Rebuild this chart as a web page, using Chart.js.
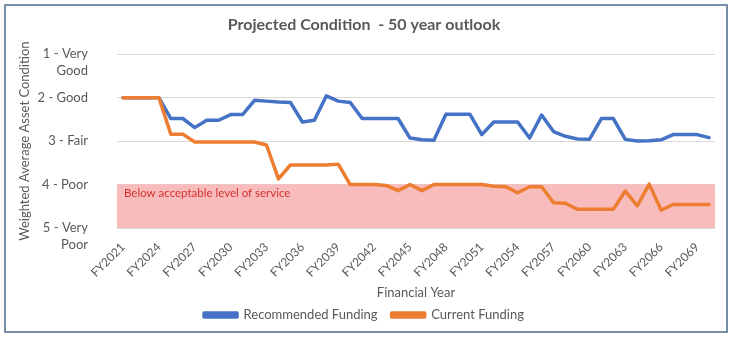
<!DOCTYPE html>
<html>
<head>
<meta charset="utf-8">
<script src="https://cdn.jsdelivr.net/npm/chart.js@4.4.0/dist/chart.umd.min.js"></script>
<style>
  html, body { margin: 0; padding: 0; background: #fff; }
  #wrap { position: relative; width: 732px; height: 338px; }
  #frame { position: absolute; left: 4px; top: 4px; width: 724px; height: 329px; box-sizing: border-box; border: 2px solid #7890a7; }
  canvas { position: absolute; left: 0; top: 0; }
</style>
</head>
<body>
<div id="wrap">
  <div id="frame"></div>
  <canvas id="chart" width="732" height="338"></canvas>
</div>
<script>
(function() {

  "use strict";

  var years = [
    "FY2021", "FY2022", "FY2023", "FY2024", "FY2025", "FY2026", "FY2027", "FY2028", "FY2029", "FY2030",
    "FY2031", "FY2032", "FY2033", "FY2034", "FY2035", "FY2036", "FY2037", "FY2038", "FY2039", "FY2040",
    "FY2041", "FY2042", "FY2043", "FY2044", "FY2045", "FY2046", "FY2047", "FY2048", "FY2049", "FY2050",
    "FY2051", "FY2052", "FY2053", "FY2054", "FY2055", "FY2056", "FY2057", "FY2058", "FY2059", "FY2060",
    "FY2061", "FY2062", "FY2063", "FY2064", "FY2065", "FY2066", "FY2067", "FY2068", "FY2069", "FY2070"
  ];

  var recommended = [
    2.00, 2.00, 2.00, 2.00, 2.48, 2.48, 2.69, 2.52, 2.52, 2.39,
    2.39, 2.06, 2.08, 2.10, 2.11, 2.56, 2.52, 1.96, 2.08, 2.11,
    2.48, 2.48, 2.48, 2.48, 2.93, 2.97, 2.98, 2.38, 2.38, 2.38,
    2.85, 2.56, 2.56, 2.56, 2.93, 2.40, 2.78, 2.89, 2.95, 2.96,
    2.48, 2.48, 2.96, 3.00, 2.99, 2.97, 2.85, 2.85, 2.85, 2.92
  ];

  var current = [
    2.00, 2.00, 2.00, 2.00, 2.84, 2.84, 3.02, 3.02, 3.02, 3.02,
    3.02, 3.02, 3.09, 3.87, 3.55, 3.55, 3.55, 3.55, 3.53, 4.00,
    4.00, 4.00, 4.02, 4.14, 4.00, 4.14, 4.00, 4.00, 4.00, 4.00,
    4.00, 4.04, 4.05, 4.19, 4.05, 4.05, 4.42, 4.43, 4.57, 4.57,
    4.57, 4.57, 4.15, 4.49, 3.99, 4.59, 4.46, 4.46, 4.46, 4.46
  ];

  var xTickLabels = ["FY2021", "FY2024", "FY2027", "FY2030", "FY2033", "FY2036", "FY2039",
    "FY2042", "FY2045", "FY2048", "FY2051", "FY2054", "FY2057", "FY2060", "FY2063", "FY2066", "FY2069"];

  var yTickValues = [1, 2, 3, 4, 5];
  var yTickLabels = [["1 - Very", "Good"], ["2 - Good", ""], ["3 - Fair", ""], ["4 - Poor", ""], ["5 - Very", "Poor"]];

  // condition range that falls below the acceptable level of service
  var bandRange = [4, 5];
  var bandText = "Below acceptable level of service";

  var grey = "#595959";
  Chart.defaults.font.family = "Lato";
  Chart.defaults.color = grey;

  var bandLabel = {
    id: "bandLabel",
    afterDatasetsDraw: function(chart) {
      var ctx = chart.ctx;
      var y = chart.scales.y;
      ctx.save();
      ctx.font = "11.5px Lato";
      ctx.fillStyle = "#d63232";
      ctx.textBaseline = "middle";
      ctx.fillText(bandText, chart.chartArea.left + 7, y.getPixelForValue(bandRange[0]) + 9);
      ctx.restore();
    }
  };

  var conditionChart = new Chart(document.getElementById("chart"), {
    type: "line",
    data: {
      labels: years,
      datasets: [
        {
          label: "Recommended Funding",
          data: recommended,
          borderColor: "#4472c4",
          backgroundColor: "#4472c4",
          borderWidth: 3.5,
          borderJoinStyle: "round",
          borderCapStyle: "round",
          pointRadius: 0,
          tension: 0,
          order: 1
        },
        {
          label: "Current Funding",
          data: current,
          borderColor: "#ed7d31",
          backgroundColor: "#ed7d31",
          borderWidth: 3.5,
          borderJoinStyle: "round",
          borderCapStyle: "round",
          pointRadius: 0,
          tension: 0,
          order: 0
        },
        {
          type: "bar",
          label: "band",
          data: years.map(function() { return bandRange; }),
          backgroundColor: "#f8bcbc",
          borderWidth: 0,
          categoryPercentage: 1,
          barPercentage: 1,
          order: 2
        }
      ]
    },
    options: {
      responsive: false,
      animation: false,
      layout: { padding: { left: 13, right: 17, top: 0, bottom: 6.5 } },
      plugins: {
        title: {
          display: true,
          text: "Projected Condition  - 50 year outlook",
          color: grey,
          font: { size: 16, weight: "bold" },
          padding: { top: 15, bottom: 20 }
        },
        legend: {
          position: "bottom",
          labels: {
            boxWidth: 33,
            boxHeight: 4,
            padding: 14,
            font: { size: 13 },
            color: grey,
            filter: function(item) { return item.text !== "band"; },
            sort: function(a, b) { return a.datasetIndex - b.datasetIndex; }
          }
        },
        tooltip: { enabled: false }
      },
      scales: {
        x: {
          offset: true,
          grid: { display: false },
          border: { display: false },
          ticks: {
            autoSkip: false,
            maxRotation: 45,
            minRotation: 45,
            padding: 4,
            font: { size: 12 },
            color: grey,
            callback: function(value, index) {
              var label = years[index];
              return xTickLabels.indexOf(label) >= 0 ? label : "";
            }
          },
          title: {
            display: true,
            text: "Financial Year",
            color: grey,
            font: { size: 13 },
            padding: { top: 0, bottom: -6 }
          },
          afterFit: function(scale) { scale.height = 66.5; }
        },
        y: {
          reverse: true,
          min: 1,
          max: 5,
          grid: { color: "#d9d9d9", drawTicks: false },
          border: { display: false },
          afterBuildTicks: function(scale) {
            scale.ticks = yTickValues.map(function(v) { return { value: v }; });
          },
          ticks: {
            autoSkip: false,
            padding: 29,
            labelOffset: 8.5,
            font: { size: 13, lineHeight: 1.3 },
            color: grey,
            callback: function(value) {
              return yTickLabels[yTickValues.indexOf(value)];
            }
          },
          title: {
            display: true,
            text: "Weighted Average Asset Condition",
            color: grey,
            font: { size: 13 },
            padding: { top: 4, bottom: 4 }
          },
          afterFit: function(scale) { scale.width = 104; }
        }
      }
    },
    plugins: [bandLabel]
  });

})();
</script>
</body>
</html>
